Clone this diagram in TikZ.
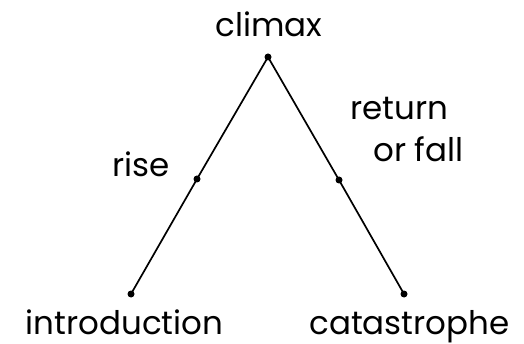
\documentclass[tikz,border=0pt]{standalone}
\usepackage{fontspec}
\setmainfont{Poppins}
\tikzset{
  lbl/.style={font=\fontsize{32.5}{42}\selectfont, inner sep=0pt, anchor=base},
  dotn/.style={circle, fill=black, inner sep=0pt, minimum size=7pt},
  arm/.style={line width=1.7pt}
}
\begin{document}
\begin{tikzpicture}[x=1pt,y=-1pt]
\useasboundingbox (0,0) rectangle (524,344);
\node[dotn] (top) at (268,57) {};
\node[dotn] (bl) at (131,294) {};
\node[dotn] (br) at (404,294) {};
\node[dotn] (ml) at (197,179) {};
\node[dotn] (mr) at (339,180) {};
\draw[arm] (bl.center) -- (ml.center) -- (top.center) -- (mr.center) -- (br.center);
\node[lbl] (tclimax) at (269,37) {climax};
\node[lbl] (trise) at (141,177) {rise};
\node[lbl, anchor=base west, align=left] (tret) at (350,162) {return\\\hspace*{23pt}or fall};
\node[lbl] (tintro) at (124.5,334) {introduction};
\node[lbl] (tcat) at (409.5,334) {catastrophe};
\end{tikzpicture}
\end{document}
